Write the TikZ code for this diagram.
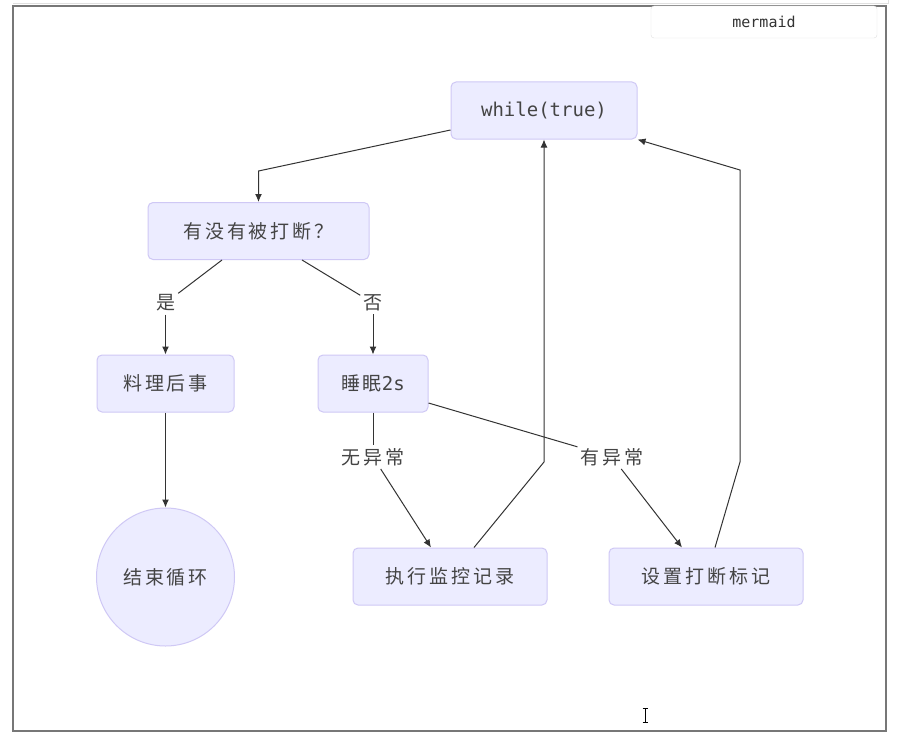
\documentclass[tikz,border=0pt]{standalone}
\usepackage{fontspec}
\usetikzlibrary{arrows.meta,calc}
\newfontfamily\cjk[LetterSpace=15]{Noto Sans CJK SC}
\newfontfamily\monof{DejaVu Sans Mono}
\definecolor{nodefill}{HTML}{ECECFF}
\definecolor{nodeline}{HTML}{CFC8F5}
\definecolor{txt}{HTML}{444444}
\definecolor{edgec}{HTML}{333333}
\definecolor{framec}{HTML}{777777}
\begin{document}
\begin{tikzpicture}[x=1pt,y=-1pt,
  box/.style={draw=nodeline, fill=nodefill, rounded corners=5pt, line width=1pt,
    minimum height=57pt, text=txt, font=\cjk\fontsize{19}{23}\selectfont, inner sep=0pt},
  circ/.style={circle, draw=nodeline, fill=nodefill, line width=1pt,
    minimum size=138pt, text=txt, font=\cjk\fontsize{19}{23}\selectfont, inner sep=0pt},
  lbl/.style={text=txt, font=\cjk\fontsize{19}{23}\selectfont, inner sep=3pt},
  ln/.style={draw=edgec, line width=1pt},
  arr/.style={ln, -{Latex[length=8pt,width=7pt]}}
]
\useasboundingbox (0,0) rectangle (905,752);
\fill[white] (0,0) rectangle (905,752);
% window frame
\draw[black!12, line width=1pt] (13,4) -- (888,4) -- (888,0);
\draw[framec, line width=1.5pt] (13,6) rectangle (886,731);
% mermaid tag
\node[draw=black!12, fill=white, rounded corners=3pt, minimum width=226pt, minimum height=32pt,
  inner sep=0pt, text=edgec, font=\monof\fontsize{15}{18}\selectfont] (tag) at (764,22) {mermaid};

% nodes
\node[box, minimum width=186pt, font=\monof\fontsize{19}{23}\selectfont] (w) at (544,110.5) {while(true)};
\node[box, minimum width=221pt] (q) at (258.5,231) {有没有被打断？};
\node[box, minimum width=137pt] (l) at (165.5,383.5) {料理后事};
\node[box, minimum width=110pt] (s) at (373,383.5) {睡眠{\monof 2s}};
\node[circ] (e) at (165.5,577) {结束循环};
\node[box, minimum width=194pt] (x) at (450,576.5) {执行监控记录};
\node[box, minimum width=194pt] (m) at (706,576.5) {设置打断标记};

% edge labels
\node[lbl] (yes) at (165.5,303) {是};
\node[lbl] (no) at (373,303) {否};
\node[lbl] (noex) at (373,457) {无异常};
\node[lbl] (ex) at (612,457) {有异常};

% bend points
\coordinate (b1) at (258.5,171);
\coordinate (b2) at (544,462);
\coordinate (b3) at (740,462);
\coordinate (b4) at (740,170);

% connectors
\draw[arr] ([yshift=-19.5pt]w.west) -- (b1) -- (q.north);
\draw[ln] ([xshift=-36.5pt]q.south) -- (yes);
\draw[arr] (yes) -- (l.north);
\draw[ln] ([xshift=43.5pt]q.south) -- (no);
\draw[arr] (no) -- (s.north);
\draw[arr] (l.south) -- (e.north);
\draw[ln] (s.south) -- (noex);
\draw[arr] (noex) -- ([xshift=-19pt]x.north);
\draw[ln] ([yshift=-19.5pt]s.east) -- (ex);
\draw[arr] (ex) -- ([xshift=-24pt]m.north);
\draw[arr] ([xshift=24pt]x.north) -- (b2) -- (w.south);
\draw[arr] ([xshift=9pt]m.north) -- (b3) -- (b4) -- (w.south east);

% text cursor
\draw[black, line width=1pt] (645,708) -- (645,722);
\draw[black, line width=0.8pt] (642.5,708) -- (647.5,708) (642.5,722) -- (647.5,722);
\end{tikzpicture}
\end{document}
